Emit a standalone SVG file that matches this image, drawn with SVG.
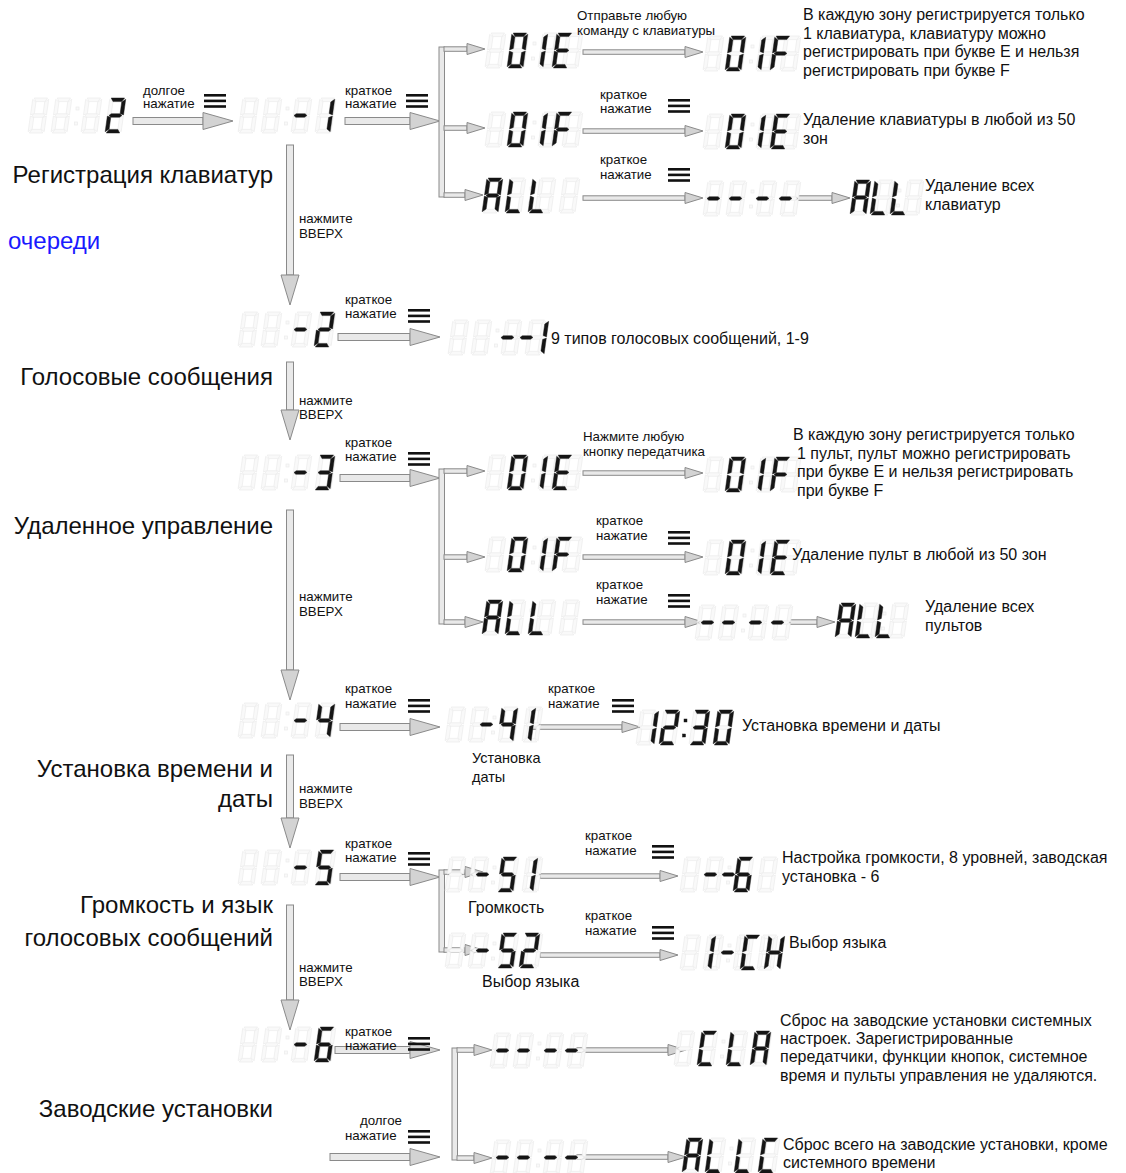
<svg xmlns="http://www.w3.org/2000/svg" xmlns:xlink="http://www.w3.org/1999/xlink" width="1126" height="1173" viewBox="0 0 1126 1173">
<style>
text{font-family:"Liberation Sans",Arial,sans-serif;fill:#111}
.s{font-size:13.3px}
.d{font-size:16px}
.m{font-size:16px}
.u{font-size:14.5px}
.big{font-size:24px}
.blue{fill:#1a1aff}
.on{fill:#151515;stroke:#151515;stroke-width:0.4}
.gh{fill:#f9f9f9;stroke:#ebebeb;stroke-width:0.7}
.sh{fill:#e9e9e9;stroke:#8a8a8a;stroke-width:1}
.hd{fill:#d3d3d3;stroke:#8a8a8a;stroke-width:1}
.mn{fill:#111}
</style>
<defs>
<polygon id="sa" points="1.3,0 14.7,0 12.4,3.6 3.6,3.6"/>
<polygon id="sb" points="16,1.3 16,16.9 12.4,15.5 12.4,4"/>
<polygon id="sc" points="16,18.1 16,33.7 12.4,31 12.4,19.5"/>
<polygon id="sd" points="1.3,35 14.7,35 12.4,31.4 3.6,31.4"/>
<polygon id="se" points="0,18.1 3.6,19.5 3.6,31 0,33.7"/>
<polygon id="sf" points="0,1.3 3.6,4 3.6,15.5 0,16.9"/>
<polygon id="sg" points="1.5,17.5 3.6,15.7 12.4,15.7 14.5,17.5 12.4,19.3 3.6,19.3"/>
<g id="c8" transform="translate(4.9,0) skewX(-8)"><use href="#sa"/><use href="#sb"/><use href="#sc"/><use href="#sd"/><use href="#se"/><use href="#sf"/><use href="#sg"/></g>
<g id="c0" transform="translate(4.9,0) skewX(-8)"><use href="#sa"/><use href="#sb"/><use href="#sc"/><use href="#sd"/><use href="#se"/><use href="#sf"/></g>
<g id="c1" transform="translate(4.9,0) skewX(-8)"><use href="#sb"/><use href="#sc"/></g>
<g id="c2" transform="translate(4.9,0) skewX(-8)"><use href="#sa"/><use href="#sb"/><use href="#sg"/><use href="#se"/><use href="#sd"/></g>
<g id="c3" transform="translate(4.9,0) skewX(-8)"><use href="#sa"/><use href="#sb"/><use href="#sg"/><use href="#sc"/><use href="#sd"/></g>
<g id="c4" transform="translate(4.9,0) skewX(-8)"><use href="#sf"/><use href="#sg"/><use href="#sb"/><use href="#sc"/></g>
<g id="c5" transform="translate(4.9,0) skewX(-8)"><use href="#sa"/><use href="#sf"/><use href="#sg"/><use href="#sc"/><use href="#sd"/></g>
<g id="c6" transform="translate(4.9,0) skewX(-8)"><use href="#sa"/><use href="#sf"/><use href="#sg"/><use href="#se"/><use href="#sc"/><use href="#sd"/></g>
<g id="cE" transform="translate(4.9,0) skewX(-8)"><use href="#sa"/><use href="#sf"/><use href="#sg"/><use href="#se"/><use href="#sd"/></g>
<g id="cF" transform="translate(4.9,0) skewX(-8)"><use href="#sa"/><use href="#sf"/><use href="#sg"/><use href="#se"/></g>
<g id="cA" transform="translate(4.9,0) skewX(-8)"><use href="#sa"/><use href="#sb"/><use href="#sc"/><use href="#se"/><use href="#sf"/><use href="#sg"/></g>
<g id="cL" transform="translate(4.9,0) skewX(-8)"><use href="#sf"/><use href="#se"/><use href="#sd"/></g>
<g id="cC" transform="translate(4.9,0) skewX(-8)"><use href="#sa"/><use href="#sf"/><use href="#se"/><use href="#sd"/></g>
<g id="cH" transform="translate(4.9,0) skewX(-8)"><use href="#sf"/><use href="#se"/><use href="#sb"/><use href="#sc"/><use href="#sg"/></g>
<g id="cm" transform="translate(4.9,0) skewX(-8)"><use href="#sg"/></g>
<g id="colon"><rect x="48" y="9" width="3" height="3"/><rect x="46.5" y="24" width="3" height="3"/></g>
<g id="ghost"><use href="#c8" x="0"/><use href="#c8" x="23"/><use href="#colon"/><use href="#c8" x="53"/><use href="#c8" x="77"/></g>
<g id="ghost3"><use href="#c8" x="0"/><use href="#c8" x="23"/><use href="#colon"/><use href="#c8" x="53"/></g>
<g id="menu" class="mn"><rect x="0" y="0" width="22" height="2.6"/><rect x="0" y="5.6" width="22" height="2.6"/><rect x="0" y="11.2" width="22" height="2.6"/></g>
</defs>
<rect width="1126" height="1173" fill="#fff"/>

<g id="connectors">
<rect class="sh" x="133" y="117.5" width="70" height="7"/><polygon class="hd" points="203,112.5 233,121 203,129.5"/>
<rect class="sh" x="345" y="117.5" width="65" height="7"/><polygon class="hd" points="410,112.5 440,121 410,129.5"/>
<rect class="sh" x="439" y="47" width="5.5" height="150"/>
<rect class="sh" x="444" y="46.8" width="23" height="4.5"/><polygon class="hd" points="467,43.5 485,49 467,54.5"/>
<rect class="sh" x="444" y="125.8" width="23" height="4.5"/><polygon class="hd" points="467,122.5 485,128 467,133.5"/>
<rect class="sh" x="444" y="192.8" width="21" height="4.5"/><polygon class="hd" points="465,189.5 483,195 465,200.5"/>
<rect class="sh" x="583" y="49.8" width="102" height="4.5"/><polygon class="hd" points="685,46.5 703,52 685,57.5"/>
<rect class="sh" x="583" y="128.8" width="102" height="4.5"/><polygon class="hd" points="685,125.5 703,131 685,136.5"/>
<rect class="sh" x="583" y="195.8" width="102" height="4.5"/><polygon class="hd" points="685,192.5 703,198 685,203.5"/>
<rect class="sh" x="797" y="195.8" width="35" height="4.5"/><polygon class="hd" points="832,192.5 850,198 832,203.5"/>
<rect class="sh" x="286.5" y="145" width="7" height="130"/><polygon class="hd" points="281,275 299,275 290,305"/>
<rect class="sh" x="338" y="333.5" width="72" height="7"/><polygon class="hd" points="410,328.5 440,337 410,345.5"/>
<rect class="sh" x="286.5" y="362" width="7" height="48"/><polygon class="hd" points="281,410 299,410 290,440"/>
<rect class="sh" x="340" y="474.5" width="70" height="7"/><polygon class="hd" points="410,469.5 440,478 410,486.5"/>
<rect class="sh" x="439" y="469" width="5.5" height="155"/>
<rect class="sh" x="444" y="468.8" width="23" height="4.5"/><polygon class="hd" points="467,465.5 485,471 467,476.5"/>
<rect class="sh" x="444" y="554.8" width="23" height="4.5"/><polygon class="hd" points="467,551.5 485,557 467,562.5"/>
<rect class="sh" x="444" y="619.8" width="21" height="4.5"/><polygon class="hd" points="465,616.5 483,622 465,627.5"/>
<rect class="sh" x="583" y="470.8" width="102" height="4.5"/><polygon class="hd" points="685,467.5 703,473 685,478.5"/>
<rect class="sh" x="583" y="554.8" width="102" height="4.5"/><polygon class="hd" points="685,551.5 703,557 685,562.5"/>
<rect class="sh" x="583" y="619.8" width="102" height="4.5"/><polygon class="hd" points="685,616.5 703,622 685,627.5"/>
<rect class="sh" x="790" y="619.8" width="27" height="4.5"/><polygon class="hd" points="817,616.5 835,622 817,627.5"/>
<rect class="sh" x="286.5" y="510" width="7" height="160"/><polygon class="hd" points="281,670 299,670 290,700"/>
<rect class="sh" x="340" y="723.5" width="70" height="7"/><polygon class="hd" points="410,718.5 440,727 410,735.5"/>
<rect class="sh" x="530" y="724.8" width="92" height="4.5"/><polygon class="hd" points="622,721.5 640,727 622,732.5"/>
<rect class="sh" x="286.5" y="755" width="7" height="63"/><polygon class="hd" points="281,818 299,818 290,848"/>
<rect class="sh" x="340" y="873.5" width="70" height="7"/><polygon class="hd" points="410,868.5 440,877 410,885.5"/>
<rect class="sh" x="439" y="870" width="5.5" height="82"/>
<rect class="sh" x="444" y="869.8" width="21" height="4.5"/><polygon class="hd" points="465,866.5 483,872 465,877.5"/>
<rect class="sh" x="444" y="947.8" width="21" height="4.5"/><polygon class="hd" points="465,944.5 483,950 465,955.5"/>
<rect class="sh" x="540" y="873.8" width="120" height="4.5"/><polygon class="hd" points="660,870.5 678,876 660,881.5"/>
<rect class="sh" x="540" y="952.8" width="120" height="4.5"/><polygon class="hd" points="660,949.5 678,955 660,960.5"/>
<rect class="sh" x="286.5" y="905" width="7" height="95"/><polygon class="hd" points="281,1000 299,1000 290,1030"/>
<rect class="sh" x="335" y="1046.5" width="75" height="7"/><polygon class="hd" points="410,1041.5 440,1050 410,1058.5"/>
<rect class="sh" x="330" y="1153.5" width="80" height="7"/><polygon class="hd" points="410,1148.5 440,1157 410,1165.5"/>
<rect class="sh" x="452" y="1048" width="5.5" height="112"/>
<rect class="sh" x="457" y="1047.8" width="17" height="4.5"/><polygon class="hd" points="474,1044.5 492,1050 474,1055.5"/>
<rect class="sh" x="457" y="1155.8" width="17" height="4.5"/><polygon class="hd" points="474,1152.5 492,1158 474,1163.5"/>
<rect class="sh" x="577" y="1047.8" width="91" height="4.5"/><polygon class="hd" points="668,1044.5 686,1050 668,1055.5"/>
<rect class="sh" x="577" y="1154.8" width="91" height="4.5"/><polygon class="hd" points="668,1151.5 686,1157 668,1162.5"/>
</g>

<g id="buttons">
<use href="#menu" x="204" y="94"/><use href="#menu" x="406" y="94"/><use href="#menu" x="668" y="99"/><use href="#menu" x="668" y="168"/>
<use href="#menu" x="408" y="309"/>
<use href="#menu" x="408" y="452"/><use href="#menu" x="668" y="531"/><use href="#menu" x="668" y="594"/>
<use href="#menu" x="408" y="699"/><use href="#menu" x="612" y="699"/>
<use href="#menu" x="408" y="852"/><use href="#menu" x="652" y="845"/><use href="#menu" x="652" y="926"/>
<use href="#menu" x="408" y="1037"/><use href="#menu" x="408" y="1130"/>
</g>

<g id="n-d2"><use class="gh" href="#ghost" x="28" y="98"/><use class="on" href="#c2" x="105" y="98"/></g>
<g id="n-d-1"><use class="gh" href="#ghost" x="238" y="98"/><use class="on" href="#cm" x="290" y="98"/><use class="on" href="#c1" x="314" y="98"/></g>
<g id="n-01e-a"><use class="gh" href="#ghost" x="485" y="33"/><use class="on" href="#c0" x="507" y="33"/><use class="on" href="#c1" x="527" y="33"/><use class="on" href="#cE" x="552" y="33"/></g>
<g id="n-01f-a"><use class="gh" href="#ghost" x="703" y="36"/><use class="on" href="#c0" x="725" y="36"/><use class="on" href="#c1" x="745" y="36"/><use class="on" href="#cF" x="770" y="36"/></g>
<g id="n-01f-b"><use class="gh" href="#ghost" x="485" y="112"/><use class="on" href="#c0" x="507" y="112"/><use class="on" href="#c1" x="527" y="112"/><use class="on" href="#cF" x="552" y="112"/></g>
<g id="n-01e-b"><use class="gh" href="#ghost" x="703" y="114"/><use class="on" href="#c0" x="725" y="114"/><use class="on" href="#c1" x="745" y="114"/><use class="on" href="#cE" x="770" y="114"/></g>
<g id="n-all-a"><use class="gh" href="#ghost" x="482" y="178"/><use class="on" href="#cA" x="482" y="178"/><use class="on" href="#cL" x="505" y="178"/><use class="on" href="#cL" x="528" y="178"/></g>
<g id="n-dash-a"><use class="gh" href="#ghost" x="703" y="181"/><use class="on" href="#cm" x="703" y="181"/><use class="on" href="#cm" x="725" y="181"/><use class="on" href="#cm" x="752" y="181"/><use class="on" href="#cm" x="775" y="181"/></g>
<g id="n-all-b"><use class="gh" href="#ghost3" x="850" y="180"/><use class="on" href="#cA" x="850" y="180"/><use class="on" href="#cL" x="870" y="180"/><use class="on" href="#cL" x="890" y="180"/></g>

<g id="n-d-2"><use class="gh" href="#ghost" x="238" y="312"/><use class="on" href="#cm" x="290" y="312"/><use class="on" href="#c2" x="314" y="312"/></g>
<g id="n-d--1"><use class="gh" href="#ghost" x="448" y="320"/><use class="on" href="#cm" x="497" y="320"/><use class="on" href="#cm" x="516" y="320"/><use class="on" href="#c1" x="528" y="320"/></g>

<g id="n-d-3"><use class="gh" href="#ghost" x="238" y="455"/><use class="on" href="#cm" x="290" y="455"/><use class="on" href="#c3" x="314" y="455"/></g>
<g id="n-01e-c"><use class="gh" href="#ghost" x="485" y="455"/><use class="on" href="#c0" x="507" y="455"/><use class="on" href="#c1" x="527" y="455"/><use class="on" href="#cE" x="552" y="455"/></g>
<g id="n-01f-c"><use class="gh" href="#ghost" x="703" y="457"/><use class="on" href="#c0" x="725" y="457"/><use class="on" href="#c1" x="745" y="457"/><use class="on" href="#cF" x="770" y="457"/></g>
<g id="n-01f-d"><use class="gh" href="#ghost" x="485" y="537"/><use class="on" href="#c0" x="507" y="537"/><use class="on" href="#c1" x="527" y="537"/><use class="on" href="#cF" x="552" y="537"/></g>
<g id="n-01e-d"><use class="gh" href="#ghost" x="703" y="540"/><use class="on" href="#c0" x="725" y="540"/><use class="on" href="#c1" x="745" y="540"/><use class="on" href="#cE" x="770" y="540"/></g>
<g id="n-all-c"><use class="gh" href="#ghost" x="482" y="600"/><use class="on" href="#cA" x="482" y="600"/><use class="on" href="#cL" x="505" y="600"/><use class="on" href="#cL" x="528" y="600"/></g>
<g id="n-dash-c"><use class="gh" href="#ghost" x="695" y="605"/><use class="on" href="#cm" x="697" y="605"/><use class="on" href="#cm" x="718" y="605"/><use class="on" href="#cm" x="745" y="605"/><use class="on" href="#cm" x="767" y="605"/></g>
<g id="n-all-d"><use class="gh" href="#ghost3" x="835" y="603"/><use class="on" href="#cA" x="835" y="603"/><use class="on" href="#cL" x="855" y="603"/><use class="on" href="#cL" x="875" y="603"/></g>

<g id="n-d-4"><use class="gh" href="#ghost" x="238" y="703"/><use class="on" href="#cm" x="290" y="703"/><use class="on" href="#c4" x="314" y="703"/></g>
<g id="n-d-41"><use class="gh" href="#ghost" x="445" y="707"/><use class="on" href="#cm" x="476" y="707"/><use class="on" href="#c4" x="497" y="707"/><use class="on" href="#c1" x="515" y="707"/></g>
<g id="n-1230"><use class="gh" href="#ghost" x="636" y="710"/><use class="on" href="#c1" x="638" y="710"/><use class="on" href="#c2" x="659" y="710"/><use class="on" href="#colon" x="636" y="710"/><use class="on" href="#c3" x="689" y="710"/><use class="on" href="#c0" x="713" y="710"/></g>

<g id="n-d-5"><use class="gh" href="#ghost" x="238" y="850"/><use class="on" href="#cm" x="290" y="850"/><use class="on" href="#c5" x="314" y="850"/></g>
<g id="n-d-51"><use class="gh" href="#ghost" x="445" y="857"/><use class="on" href="#cm" x="472" y="857"/><use class="on" href="#c5" x="497" y="857"/><use class="on" href="#c1" x="517" y="857"/></g>
<g id="n-d--6"><use class="gh" href="#ghost" x="680" y="857"/><use class="on" href="#cm" x="700" y="857"/><use class="on" href="#cm" x="718" y="857"/><use class="on" href="#c6" x="733" y="857"/></g>
<g id="n-d-52"><use class="gh" href="#ghost" x="445" y="933"/><use class="on" href="#cm" x="472" y="933"/><use class="on" href="#c5" x="497" y="933"/><use class="on" href="#c2" x="519" y="933"/></g>
<g id="n-1ch"><use class="gh" href="#ghost" x="680" y="935"/><use class="on" href="#c1" x="695" y="935"/><use class="on" href="#cm" x="717" y="935"/><use class="on" href="#cC" x="740" y="935"/><use class="on" href="#cH" x="764" y="935"/></g>

<g id="n-d-6"><use class="gh" href="#ghost" x="238" y="1027"/><use class="on" href="#cm" x="290" y="1027"/><use class="on" href="#c6" x="314" y="1027"/></g>
<g id="n-dash-e"><use class="gh" href="#ghost" x="490" y="1033"/><use class="on" href="#cm" x="492" y="1033"/><use class="on" href="#cm" x="513" y="1033"/><use class="on" href="#cm" x="540" y="1033"/><use class="on" href="#cm" x="561" y="1033"/></g>
<g id="n-cla"><use class="gh" href="#ghost" x="674" y="1031"/><use class="on" href="#cC" x="697" y="1031"/><use class="on" href="#cL" x="726" y="1031"/><use class="on" href="#cA" x="750" y="1031"/></g>
<g id="n-dash-f"><use class="gh" href="#ghost" x="490" y="1140"/><use class="on" href="#cm" x="492" y="1140"/><use class="on" href="#cm" x="513" y="1140"/><use class="on" href="#cm" x="540" y="1140"/><use class="on" href="#cm" x="561" y="1140"/></g>
<g id="n-allc"><use class="gh" href="#ghost" x="682" y="1138"/><use class="on" href="#cA" x="682" y="1138"/><use class="on" href="#cL" x="705" y="1138"/><use class="on" href="#cL" x="734" y="1138"/><use class="on" href="#cC" x="758" y="1138"/></g>

<g id="labels">
<text class="s" x="143" y="95">долгое</text><text class="s" x="143" y="108">нажатие</text>
<text class="s" x="345" y="95">краткое</text><text class="s" x="345" y="108">нажатие</text>
<text class="s" x="577" y="20">Отправьте любую</text><text class="s" x="577" y="35">команду с клавиатуры</text>
<text class="s" x="600" y="99">краткое</text><text class="s" x="600" y="113">нажатие</text>
<text class="s" x="600" y="164">краткое</text><text class="s" x="600" y="179">нажатие</text>
<text class="d" x="803" y="20">В каждую зону регистрируется только</text>
<text class="d" x="803" y="39">1 клавиатура, клавиатуру можно</text>
<text class="d" x="803" y="57">регистрировать при букве E и нельзя</text>
<text class="d" x="803" y="76">регистрировать при букве F</text>
<text class="d" x="803" y="125">Удаление клавиатуры в любой из 50</text>
<text class="d" x="803" y="144">зон</text>
<text class="d" x="925" y="191">Удаление всех</text>
<text class="d" x="925" y="210">клавиатур</text>
<text class="big" x="273" y="183" text-anchor="end">Регистрация клавиатур</text>
<text class="big blue" x="8" y="249">очереди</text>
<text class="s" x="299" y="223">нажмите</text><text class="s" x="299" y="238">ВВЕРХ</text>

<text class="s" x="345" y="304">краткое</text><text class="s" x="345" y="318">нажатие</text>
<text class="m" x="551" y="344">9 типов голосовых сообщений, 1-9</text>
<text class="big" x="273" y="385" text-anchor="end">Голосовые сообщения</text>
<text class="s" x="299" y="405">нажмите</text><text class="s" x="299" y="419">ВВЕРХ</text>

<text class="s" x="345" y="447">краткое</text><text class="s" x="345" y="461">нажатие</text>
<text class="s" x="583" y="441">Нажмите любую</text><text class="s" x="583" y="456">кнопку передатчика</text>
<text class="d" x="793" y="440">В каждую зону регистрируется только</text>
<text class="d" x="797" y="459">1 пульт, пульт можно регистрировать</text>
<text class="d" x="797" y="477">при букве E и нельзя регистрировать</text>
<text class="d" x="797" y="496">при букве F</text>
<text class="s" x="596" y="525">краткое</text><text class="s" x="596" y="540">нажатие</text>
<text class="d" x="792" y="560">Удаление пульт в любой из 50 зон</text>
<text class="s" x="596" y="589">краткое</text><text class="s" x="596" y="604">нажатие</text>
<text class="d" x="925" y="612">Удаление всех</text>
<text class="d" x="925" y="631">пультов</text>
<text class="big" x="273" y="534" text-anchor="end">Удаленное управление</text>
<text class="s" x="299" y="601">нажмите</text><text class="s" x="299" y="616">ВВЕРХ</text>

<text class="s" x="345" y="693">краткое</text><text class="s" x="345" y="708">нажатие</text>
<text class="s" x="548" y="693">краткое</text><text class="s" x="548" y="708">нажатие</text>
<text class="m" x="742" y="731">Установка времени и даты</text>
<text class="u" x="472" y="763">Установка</text><text class="u" x="472" y="782">даты</text>
<text class="big" x="273" y="777" text-anchor="end">Установка времени и</text>
<text class="big" x="273" y="807" text-anchor="end">даты</text>
<text class="s" x="299" y="793">нажмите</text><text class="s" x="299" y="808">ВВЕРХ</text>

<text class="s" x="345" y="848">краткое</text><text class="s" x="345" y="862">нажатие</text>
<text class="s" x="585" y="840">краткое</text><text class="s" x="585" y="855">нажатие</text>
<text class="d" x="782" y="863">Настройка громкости, 8 уровней, заводская</text>
<text class="d" x="782" y="882">установка - 6</text>
<text class="d" x="468" y="913">Громкость</text>
<text class="s" x="585" y="920">краткое</text><text class="s" x="585" y="935">нажатие</text>
<text class="m" x="789" y="948">Выбор языка</text>
<text class="d" x="482" y="987">Выбор языка</text>
<text class="big" x="273" y="913" text-anchor="end">Громкость и язык</text>
<text class="big" x="273" y="946" text-anchor="end">голосовых сообщений</text>
<text class="s" x="299" y="972">нажмите</text><text class="s" x="299" y="986">ВВЕРХ</text>

<text class="s" x="345" y="1036">краткое</text><text class="s" x="345" y="1050">нажатие</text>
<text class="s" x="360" y="1125">долгое</text><text class="s" x="345" y="1140">нажатие</text>
<text class="d" x="780" y="1026">Сброс на заводские установки системных</text>
<text class="d" x="780" y="1044">настроек. Зарегистрированные</text>
<text class="d" x="780" y="1062">передатчики, функции кнопок, системное</text>
<text class="d" x="780" y="1081">время и пульты управления не удаляются.</text>
<text class="d" x="783" y="1150">Сброс всего на заводские установки, кроме</text>
<text class="d" x="783" y="1168">системного времени</text>
<text class="big" x="273" y="1117" text-anchor="end">Заводские установки</text>
</g>
</svg>
